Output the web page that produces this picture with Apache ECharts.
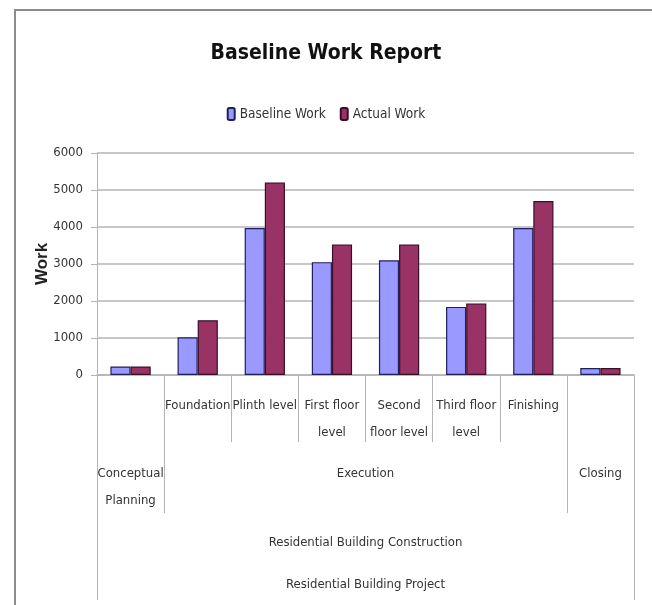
<!DOCTYPE html>
<html>
<head>
<meta charset="utf-8">
<script src="https://cdn.jsdelivr.net/npm/echarts@6.0.0/dist/echarts.min.js"></script>
<style>
html,body{margin:0;padding:0;background:#fff;}
#wrap{position:relative;width:652px;height:605px;overflow:hidden;}
#frame{position:absolute;left:14px;top:9px;width:700px;height:700px;border-top:2px solid #8c8c8c;border-left:2px solid #8c8c8c;box-sizing:border-box;}
#chart{position:absolute;left:0;top:0;width:652px;height:605px;}
</style>
</head>
<body>
<div id="wrap"><div id="frame"></div><div id="chart"></div></div>
<script>
const categories = ['Conceptual Planning','Foundation','Plinth level','First floor level','Second floor level','Third floor level','Finishing','Closing'];
const level1Labels = ['', 'Foundation', 'Plinth level', 'First floor\nlevel', 'Second\nfloor level', 'Third floor\nlevel', 'Finishing', ''];
const level2Groups = [
  {name: 'Conceptual\nPlanning', from: 0, to: 1},
  {name: 'Execution', from: 1, to: 7},
  {name: 'Closing', from: 7, to: 8}
];
const level3Groups = [{name: 'Residential Building Construction', from: 0, to: 8}];
const level4Groups = [{name: 'Residential Building Project', from: 0, to: 8}];
const baselineWork = [230, 1020, 3970, 3050, 3100, 1840, 3970, 190];
const actualWork   = [230, 1480, 5200, 3530, 3530, 1935, 4700, 190];
const yTicks = [0, 1000, 2000, 3000, 4000, 5000, 6000];

const FONT = "'Liberation Sans Narrow', 'DejaVu Sans Condensed', sans-serif";
const TXT = '#333333';
const LINE = '#b4b4b4';
const FS = 13;

function centers(groups){ return groups.map(g => (g.from + g.to) / 2); }
function bounds(groups){
  const s = new Set();
  groups.forEach(g => { s.add(g.from); s.add(g.to); });
  return Array.from(s).sort((a,b)=>a-b);
}
function labelFor(groups){
  return function(v){
    const g = groups.find(g => Math.abs((g.from + g.to)/2 - v) < 1e-6);
    return g ? g.name : '';
  };
}
function levelAxis(groups, offset, tickLen, margin, showTicks){
  return {
    type: 'value', gridIndex: 0, position: 'bottom', offset: offset,
    min: 0, max: categories.length,
    axisLine: {show: false},
    splitLine: {show: false},
    axisTick: {show: showTicks, length: tickLen, customValues: bounds(groups), lineStyle: {color: LINE, width: 1}},
    axisLabel: {show: true, customValues: centers(groups), formatter: labelFor(groups), margin: margin,
      color: TXT, fontFamily: FONT, fontSize: FS, lineHeight: 27, verticalAlign: 'top'}
  };
}

const chart = echarts.init(document.getElementById('chart'), null, {renderer: 'canvas'});
chart.setOption({
  animation: false,
  backgroundColor: 'transparent',
  title: {
    text: 'Baseline Work Report', left: 'center', top: 38,
    textStyle: {fontFamily: FONT, fontWeight: 'bold', fontSize: 21, color: '#111'}
  },
  legend: {
    top: 102, left: 'center', itemWidth: 7, itemHeight: 12, itemGap: 14,
    textStyle: {fontFamily: FONT, fontSize: 13.5, color: TXT},
    data: ['Baseline Work', 'Actual Work']
  },
  grid: {left: 97, right: 18, top: 153, bottom: 230, containLabel: false, outerBoundsMode: 'none'},
  yAxis: {
    type: 'value', min: yTicks[0], max: yTicks[yTicks.length-1], interval: 1000,
    name: 'Work', nameLocation: 'middle', nameGap: 46, nameRotate: 90, nameMoveOverlap: false,
    nameTextStyle: {fontFamily: "'Liberation Sans', Arial, sans-serif", fontWeight: 'bold', fontSize: 17, color: '#222'},
    axisLine: {show: true, lineStyle: {color: LINE, width: 1}},
    axisTick: {show: true, length: 6, lineStyle: {color: LINE}},
    splitLine: {show: true, lineStyle: {color: LINE, width: 1.5}},
    axisLabel: {color: TXT, fontFamily: FONT, fontSize: FS, margin: 14, formatter: v => String(v)}
  },
  xAxis: [
    {
      type: 'category', data: categories, position: 'bottom',
      axisLine: {show: true, lineStyle: {color: LINE, width: 1.5}},
      axisTick: {show: true, length: 67, interval: 0, lineStyle: {color: LINE, width: 1}},
      axisLabel: {interval: 0, formatter: (v, i) => level1Labels[i], margin: 17,
        color: TXT, fontFamily: FONT, fontSize: FS, lineHeight: 27, verticalAlign: 'top'}
    },
    levelAxis(level2Groups, 67, 71, 18, true),
    levelAxis(level3Groups, 138, 87, 16, true),
    levelAxis(level4Groups, 138, 0, 58, false)
  ],
  series: [
    {
      name: 'Baseline Work', type: 'bar', data: baselineWork, xAxisIndex: 0,
      barGap: '0%', barCategoryGap: '40%',
      itemStyle: {color: '#9999ff', borderColor: '#1f1f5c', borderWidth: 1.2}
    },
    {
      name: 'Actual Work', type: 'bar', data: actualWork, xAxisIndex: 0,
      barGap: '0%', barCategoryGap: '40%',
      itemStyle: {color: '#993366', borderColor: '#3a0f26', borderWidth: 1.2}
    }
  ]
});
</script>
</body>
</html>
